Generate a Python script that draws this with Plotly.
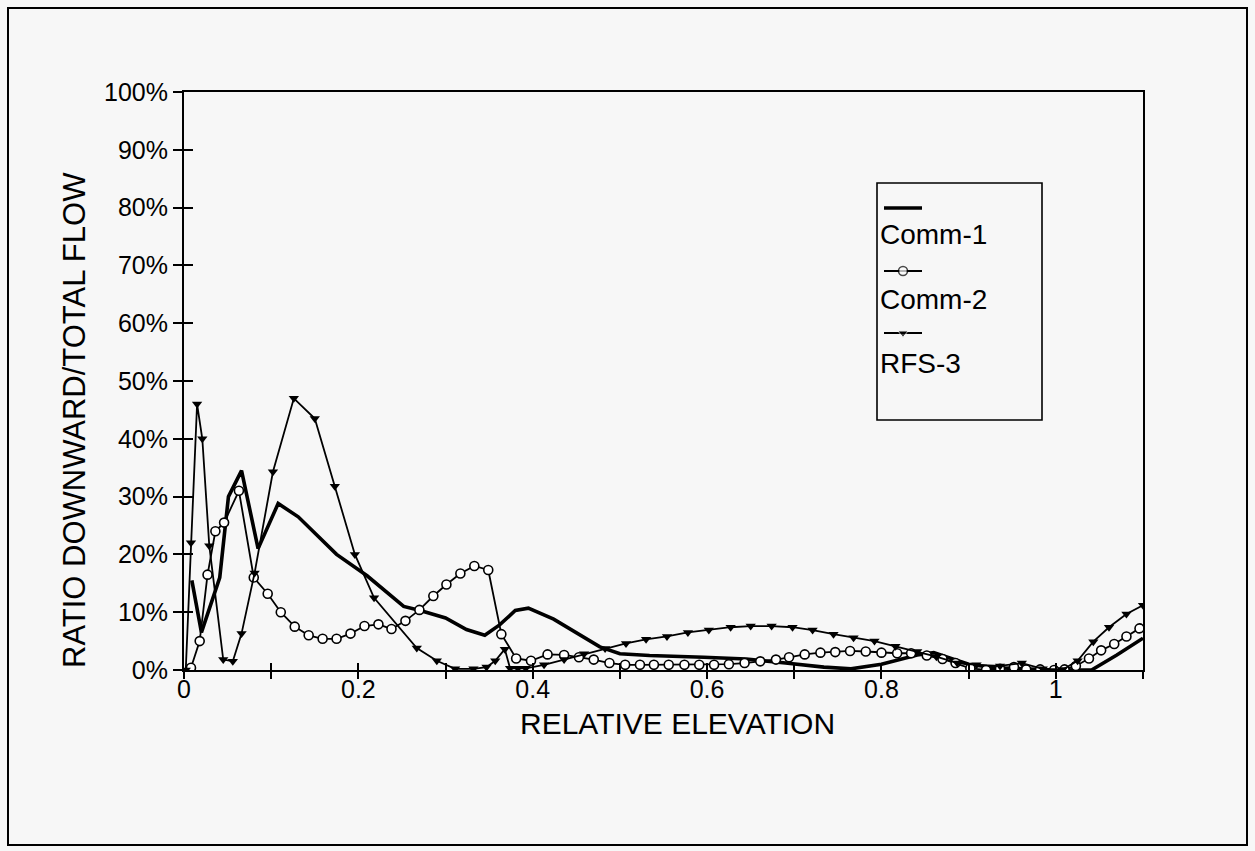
import plotly.graph_objects as go

# ---------------- data ----------------
comm1_x = [0.009, 0.020, 0.041, 0.051, 0.066, 0.085, 0.108, 0.131, 0.175, 0.210, 0.252, 0.271,
           0.300, 0.324, 0.345, 0.362, 0.380, 0.395, 0.424, 0.450, 0.477, 0.500, 0.534, 0.596,
           0.645, 0.690, 0.734, 0.765, 0.800, 0.841, 0.860, 0.880, 0.900, 0.930, 0.960, 1.000,
           1.041, 1.070, 1.100]
comm1_y = [15.5, 6.5, 16.0, 30.0, 34.5, 21.0, 28.8, 26.5, 20.0, 16.3, 11.0, 10.3,
           9.0, 7.0, 6.0, 7.8, 10.3, 10.7, 8.8, 6.5, 4.0, 2.8, 2.5, 2.2,
           1.9, 1.2, 0.5, 0.2, 1.0, 2.6, 3.0, 2.0, 1.0, 0.4, 0.2, 0.0,
           0.0, 2.6, 5.5]

comm2_x = [0.008, 0.018, 0.027, 0.036, 0.046, 0.063, 0.080, 0.096, 0.111, 0.127, 0.143, 0.159,
           0.175, 0.191, 0.207, 0.223, 0.238, 0.254, 0.270, 0.286, 0.301, 0.317, 0.333, 0.349,
           0.364, 0.381, 0.398, 0.417, 0.436, 0.453, 0.470, 0.488, 0.506, 0.523, 0.539, 0.556,
           0.574, 0.591, 0.608, 0.625, 0.643, 0.661, 0.679, 0.694, 0.712, 0.730, 0.747, 0.764,
           0.782, 0.800, 0.818, 0.834, 0.852, 0.870, 0.885, 0.902, 0.920, 0.936, 0.952, 0.966,
           0.982, 0.998, 1.010, 1.023, 1.038, 1.052, 1.067, 1.081, 1.096]
comm2_y = [0.4, 5.0, 16.5, 24.0, 25.5, 31.0, 16.0, 13.2, 10.0, 7.5, 6.0, 5.4,
           5.4, 6.3, 7.6, 7.9, 7.1, 8.5, 10.4, 12.8, 14.8, 16.7, 18.0, 17.3,
           6.2, 2.0, 1.6, 2.7, 2.6, 2.2, 1.8, 1.2, 0.9, 0.9, 0.9, 0.9,
           0.9, 0.9, 0.9, 1.0, 1.2, 1.5, 1.8, 2.2, 2.7, 3.0, 3.1, 3.3,
           3.2, 3.0, 2.9, 2.9, 2.5, 1.9, 1.2, 0.3, 0.0, 0.2, 0.5, 0.1,
           0.1, 0.0, 0.1, 0.7, 2.0, 3.4, 4.5, 5.8, 7.2]

rfs3_x = [0.002, 0.008, 0.015, 0.021, 0.029, 0.045, 0.056, 0.066, 0.081, 0.102, 0.126, 0.150,
          0.173, 0.196, 0.218, 0.267, 0.290, 0.311, 0.332, 0.347, 0.357, 0.368, 0.374, 0.383,
          0.392, 0.413, 0.436, 0.459, 0.483, 0.507, 0.530, 0.554, 0.578, 0.602, 0.627, 0.650,
          0.674, 0.698, 0.721, 0.745, 0.768, 0.792, 0.816, 0.841, 0.863, 0.887, 0.909, 0.936,
          0.961, 0.985, 1.008, 1.025, 1.043, 1.061, 1.081, 1.100]
rfs3_y = [0.0, 22.0, 46.0, 40.0, 21.5, 1.8, 1.5, 6.3, 16.8, 34.3, 47.0, 43.5,
          31.8, 20.0, 12.5, 3.8, 1.6, 0.2, 0.2, 0.5, 1.6, 3.6, 0.3, 0.3,
          0.3, 0.9, 1.8, 2.8, 3.7, 4.6, 5.3, 5.8, 6.5, 6.9, 7.4, 7.6,
          7.6, 7.4, 6.9, 6.2, 5.6, 5.0, 4.1, 3.2, 2.3, 1.2, 0.9, 0.7,
          1.2, 0.2, 0.1, 1.6, 4.9, 7.4, 9.7, 11.2]

series_names = ["Comm-1", "Comm-2", "RFS-3"]

x_tickvals = [0, 0.1, 0.2, 0.3, 0.4, 0.5, 0.6, 0.7, 0.8, 0.9, 1.0, 1.1]
x_ticktext = ["0", "", "0.2", "", "0.4", "", "0.6", "", "0.8", "", "1", ""]
y_tickvals = [0, 10, 20, 30, 40, 50, 60, 70, 80, 90, 100]
y_ticktext = ["0%", "10%", "20%", "30%", "40%", "50%", "60%", "70%", "80%", "90%", "100%"]

x_title = "RELATIVE ELEVATION"
y_title = "RATIO DOWNWARD/TOTAL FLOW"

# ---------------- layout constants ----------------
W, H = 1255, 851
L, R, T, B = 184, 112, 92, 181
PW, PH = W - L - R, H - T - B
FONT = "Liberation Sans, Arial, sans-serif"
BG = "#f7f7f7"
FS = 25
FS_XTITLE = 30
FS_YTITLE = 31
FS_LEG = 28


def px_to_paper_x(px):
    return (px - L) / PW


def px_to_paper_y(py):
    return (H - B - py) / PH


fig = go.Figure()

fig.add_trace(go.Scatter(x=comm1_x, y=comm1_y, mode="lines", name=series_names[0],
                         line=dict(color="black", width=3.6), showlegend=False))
fig.add_trace(go.Scatter(x=comm2_x, y=comm2_y, mode="lines+markers", name=series_names[1],
                         line=dict(color="black", width=1.8),
                         marker=dict(symbol="circle", size=9, color="white",
                                     line=dict(color="black", width=1.6)),
                         showlegend=False))
fig.add_trace(go.Scatter(x=rfs3_x, y=rfs3_y, mode="lines+markers", name=series_names[2],
                         line=dict(color="black", width=1.8),
                         marker=dict(symbol="triangle-down", size=9, color="black"),
                         showlegend=False))

# invisible trace for the overlay axes (inward half of crossing ticks)
fig.add_trace(go.Scatter(x=[0], y=[0], xaxis="x2", yaxis="y2", mode="markers",
                         marker=dict(opacity=0), showlegend=False, hoverinfo="skip"))

# ---------------- custom legend (sample above text, Excel style) ----------------
leg_left, leg_right, leg_top, leg_bottom = 877, 1042, 183, 420
sample_x0, sample_x1 = 884, 922
sample_rows = [208, 271, 333]
text_rows = [234, 299, 363]

legend_styles = [
    dict(mode="lines", line=dict(color="black", width=3.6), marker=dict(size=0)),
    dict(mode="lines+markers", line=dict(color="black", width=1.8),
         marker=dict(symbol="circle", size=[0, 9, 0], color="white",
                     line=dict(color="black", width=1.6))),
    dict(mode="lines+markers", line=dict(color="black", width=1.8),
         marker=dict(symbol="triangle-down", size=[0, 9, 0], color="black")),
]
for i, st in enumerate(legend_styles):
    yy = px_to_paper_y(sample_rows[i])
    xs = [px_to_paper_x(sample_x0), px_to_paper_x((sample_x0 + sample_x1) / 2), px_to_paper_x(sample_x1)]
    fig.add_trace(go.Scatter(x=xs, y=[yy] * 3, xaxis="x3", yaxis="y3", showlegend=False,
                             hoverinfo="skip", cliponaxis=False, **st))
    fig.add_annotation(xref="paper", yref="paper", x=px_to_paper_x(878), y=px_to_paper_y(text_rows[i]),
                       text=series_names[i], showarrow=False, xanchor="left", yanchor="middle",
                       font=dict(family=FONT, size=FS_LEG, color="black"))

shapes = [
    # outer frame
    dict(type="rect", xref="paper", yref="paper",
         x0=px_to_paper_x(8), x1=px_to_paper_x(1247), y0=px_to_paper_y(845), y1=px_to_paper_y(8),
         line=dict(color="black", width=2), fillcolor="rgba(0,0,0,0)", layer="below"),
    # legend box
    dict(type="rect", xref="paper", yref="paper",
         x0=px_to_paper_x(leg_left), x1=px_to_paper_x(leg_right),
         y0=px_to_paper_y(leg_bottom), y1=px_to_paper_y(leg_top),
         line=dict(color="black", width=1.6), fillcolor=BG, layer="below"),
]

fig.add_annotation(xref="paper", yref="paper", x=px_to_paper_x(677), y=px_to_paper_y(723),
                   text=x_title, showarrow=False, xanchor="center", yanchor="middle",
                   font=dict(family=FONT, size=FS_XTITLE, color="black"))
fig.add_annotation(xref="paper", yref="paper", x=px_to_paper_x(74), y=px_to_paper_y(420),
                   text=y_title, showarrow=False, textangle=-90, xanchor="center", yanchor="middle",
                   font=dict(family=FONT, size=FS_YTITLE, color="black"))

axis_common = dict(showgrid=False, zeroline=False, linecolor="black", linewidth=2,
                   tickcolor="black", tickwidth=1.6)

fig.update_layout(
    width=W, height=H,
    margin=dict(l=L, r=R, t=T, b=B, autoexpand=False),
    paper_bgcolor=BG, plot_bgcolor=BG,
    font=dict(family=FONT, size=FS, color="black"),
    shapes=shapes,
    xaxis=dict(range=[0, 1.1], tickvals=x_tickvals, ticktext=x_ticktext, ticks="outside",
               ticklen=7, ticklabelstandoff=-11, showline=True, mirror=True,
               tickfont=dict(size=FS), **axis_common),
    yaxis=dict(range=[0, 100], tickvals=y_tickvals, ticktext=y_ticktext, ticks="outside",
               ticklen=9, showline=True, mirror=True, tickfont=dict(size=FS), **axis_common),
    xaxis2=dict(range=[0, 1.1], tickvals=x_tickvals, ticks="inside", ticklen=7,
                showticklabels=False, overlaying="x", side="bottom", showline=False,
                showgrid=False, zeroline=False, tickcolor="black", tickwidth=1.6),
    yaxis2=dict(range=[0, 100], tickvals=y_tickvals, ticks="inside", ticklen=9,
                showticklabels=False, overlaying="y", side="left", showline=False,
                showgrid=False, zeroline=False, tickcolor="black", tickwidth=1.6),
    xaxis3=dict(range=[0, 1], overlaying="x", visible=False),
    yaxis3=dict(range=[0, 1], overlaying="y", visible=False),
    showlegend=False,
)

fig.write_html("out.html", config={"displayModeBar": False},
               post_script="document.body.style.margin='0px';document.body.style.background='%s';" % BG)
